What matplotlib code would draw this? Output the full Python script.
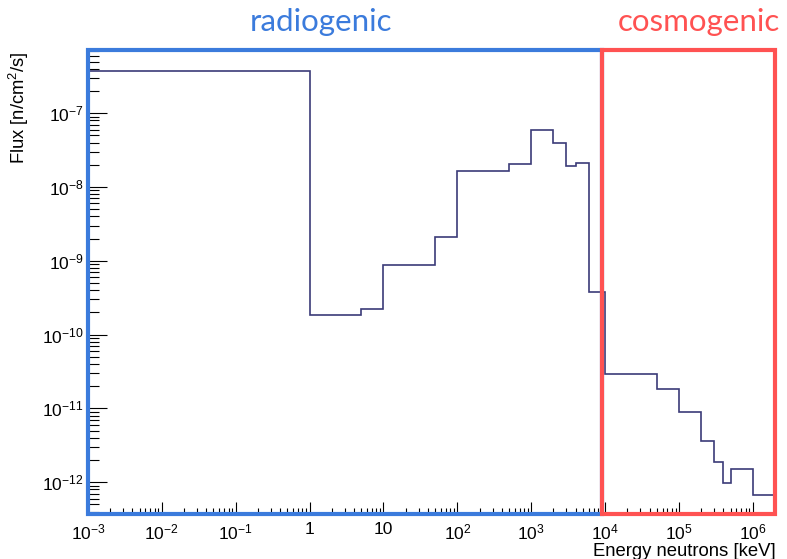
import matplotlib

matplotlib.use("Agg")

import matplotlib.pyplot as plt
import matplotlib.transforms as mtransforms
from matplotlib.patches import Rectangle
from matplotlib.ticker import FixedLocator, LogLocator, NullFormatter

plt.rcParams["font.family"] = ["Liberation Sans", "DejaVu Sans"]
plt.rcParams["mathtext.fontset"] = "custom"
plt.rcParams["mathtext.rm"] = "Liberation Sans"
plt.rcParams["mathtext.it"] = "Liberation Sans:italic"
plt.rcParams["mathtext.bf"] = "Liberation Sans:bold"

# bin edges in keV and flux per bin in n/cm^2/s
edges = [1e-3, 1, 5, 10, 50, 100, 500, 1e3, 2e3, 3e3, 4e3, 6e3, 1e4,
         5e4, 1e5, 2e5, 3e5, 4e5, 5e5, 1e6, 2e6]
flux = [3.78e-7, 1.85e-10, 2.23e-10, 8.7e-10, 2.13e-9, 1.67e-8, 2.04e-8,
        5.94e-8, 3.91e-8, 1.95e-8, 2.14e-8, 3.73e-10, 2.93e-11, 1.85e-11,
        8.9e-12, 3.66e-12, 1.85e-12, 9.6e-13, 1.51e-12, 6.7e-13]

x_ticks = [1e-3, 1e-2, 1e-1, 1, 10, 1e2, 1e3, 1e4, 1e5, 1e6]
x_labels = [r"$10^{-3}$", r"$10^{-2}$", r"$10^{-1}$", "1", "10", r"$10^{2}$",
            r"$10^{3}$", r"$10^{4}$", r"$10^{5}$", r"$10^{6}$"]
y_ticks = [1e-12, 1e-11, 1e-10, 1e-9, 1e-8, 1e-7]
y_labels = [r"$10^{-12}$", r"$10^{-11}$", r"$10^{-10}$", r"$10^{-9}$",
            r"$10^{-8}$", r"$10^{-7}$"]

split = 9.2e3  # where the radiogenic box ends and the cosmogenic one starts
BLUE = "#3b7bdc"
RED = "#ff5252"
HIST = "#3b3b78"

fig = plt.figure(figsize=(7.87, 5.59), dpi=100)
ax = fig.add_axes([0.1118, 0.0805, 0.8730, 0.8301])

ax.stairs(flux, edges, baseline=None, color=HIST, linewidth=1.2)

ax.set_xscale("log")
ax.set_yscale("log")
ax.set_xlim(1e-3, 2e6)
ax.set_ylim(3.7e-13, 7.2e-7)

ax.xaxis.set_major_locator(FixedLocator(x_ticks))
ax.set_xticklabels(x_labels)
ax.yaxis.set_major_locator(FixedLocator(y_ticks))
ax.set_yticklabels(y_labels)
ax.xaxis.set_minor_locator(LogLocator(base=10, subs=range(2, 10), numticks=30))
ax.yaxis.set_minor_locator(LogLocator(base=10, subs=range(2, 10), numticks=30))
ax.xaxis.set_minor_formatter(NullFormatter())
ax.yaxis.set_minor_formatter(NullFormatter())

ax.tick_params(axis="both", which="both", direction="in", width=0.8,
               colors="black", labelsize=12.5)
ax.tick_params(axis="x", which="major", length=8.5, pad=6)
ax.tick_params(axis="x", which="minor", length=4)
ax.tick_params(axis="y", which="major", length=14, pad=3)
ax.tick_params(axis="y", which="minor", length=8)

for sp in ax.spines.values():
    sp.set_linewidth(0.8)
    sp.set_color("black")

# ROOT-style axis titles: x title sits under the right end, y title at the top
ax.set_xlabel("Energy neutrons [keV]", fontsize=13.3, loc="right")
ax.xaxis.set_label_coords(1.0015, -0.062)
ax.set_ylabel(r"Flux [n/cm$^{2}$/s]", fontsize=13.2, loc="top")
ax.yaxis.set_label_coords(-0.083, 0.997)

# coloured region boxes: x in data units, y in axes units
trans = mtransforms.blended_transform_factory(ax.transData, ax.transAxes)
ax.add_patch(Rectangle((1e-3, 0), split - 1e-3, 1, transform=trans,
                       fill=False, edgecolor=BLUE, linewidth=3, clip_on=False,
                       zorder=5))
ax.add_patch(Rectangle((split, 0), 2e6 - split, 1, transform=trans,
                       fill=False, edgecolor=RED, linewidth=3, clip_on=False,
                       zorder=6))

fig.text(321 / 787, 1 - 22 / 559, "radiogenic", color=BLUE, fontsize=22.5,
         family=["Lato", "DejaVu Sans"], ha="center", va="center")
fig.text(699 / 787, 1 - 22 / 559, "cosmogenic", color=RED, fontsize=22.5,
         family=["Lato", "DejaVu Sans"], ha="center", va="center")

fig.savefig("out.png", dpi=100)
